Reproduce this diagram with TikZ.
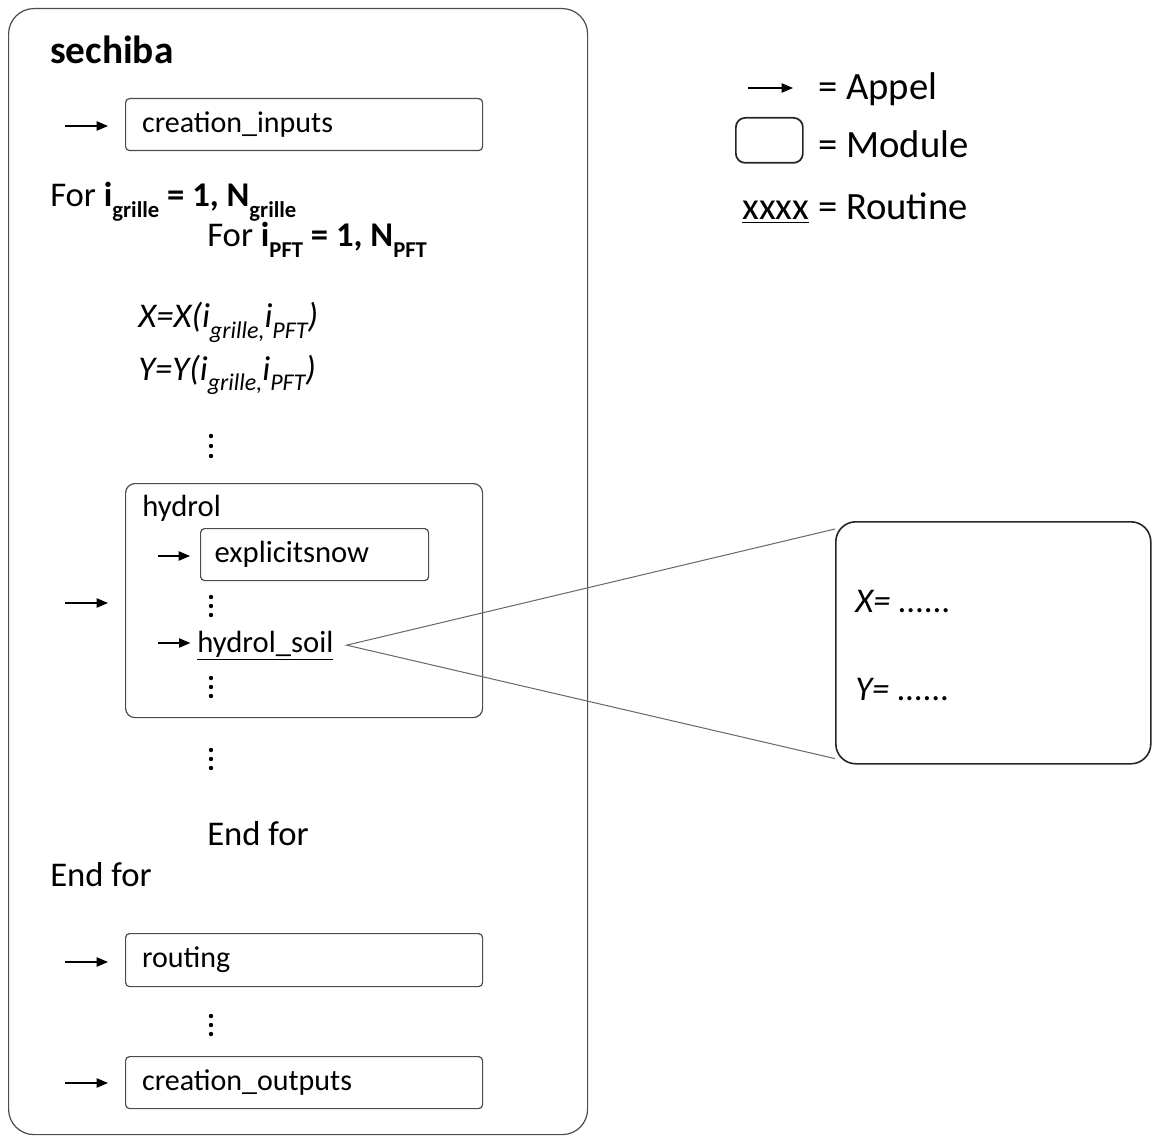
\documentclass[tikz,border=0pt]{standalone}
\usepackage{fontspec}
\setmainfont{Carlito}
\usetikzlibrary{arrows.meta,calc}
\newcommand\lsub[2][14pt]{\raisebox{-0.3em}{\fontsize{#1}{#1}\selectfont #2}}
\tikzset{
  px/.style={x=0.75pt,y=-0.75pt},
  txt/.style={inner sep=0pt,anchor=base west,font=\fontsize{23pt}{27pt}\selectfont},
  bigtxt/.style={inner sep=0pt,anchor=base west,font=\fontsize{26pt}{30pt}\selectfont},
  legtxt/.style={inner sep=0pt,anchor=base west,font=\fontsize{29pt}{33pt}\selectfont},
  modbox/.style={draw=black!70,line width=0.9pt,rounded corners=3pt,anchor=north west,
     inner xsep=12pt,align=left,font=\fontsize{22.5pt}{26pt}\selectfont},
  bigmod/.style={draw=black!70,line width=0.9pt,anchor=north west,inner sep=0pt},
  call/.style={-{Triangle[length=8.5pt,width=7pt]},line width=0.9pt,black},
  zoomline/.style={draw=black!60,line width=0.75pt},
  dot/.style={fill=black}
}
\begin{document}
\begin{tikzpicture}[px]
\useasboundingbox (0,0) rectangle (1152,1137);
% outer module
\node[bigmod,rounded corners=19pt,minimum width=579*0.75pt,minimum height=1126*0.75pt] (sechiba) at (8,8) {};
\node[inner sep=0pt,anchor=base west,font=\fontsize{29.5pt}{33pt}\selectfont\bfseries] (title) at (50,64) {sechiba};
% creation_inputs
\node[modbox,minimum width=357*0.75pt,minimum height=52*0.75pt,text width=243pt] (ci) at (125,98) {creation\_inputs};
\coordinate (aci) at (65,126);
\draw[call,shorten >=12.75pt] (aci) -- (aci -| ci.west);
% loops
\node[bigtxt] (for1) at (50,207) {For \textbf{i\lsub[17pt]{grille} = 1, N\lsub[17pt]{grille}}};
\node[bigtxt] (for2) at (207,247) {For \textbf{i\lsub[17pt]{PFT} = 1, N\lsub[17pt]{PFT}}};
\node[bigtxt,font=\fontsize{26pt}{30pt}\selectfont\itshape] (xeq) at (138,328) {X=X(i\lsub[18pt]{grille,}i\lsub[18pt]{PFT})};
\node[bigtxt,font=\fontsize{26pt}{30pt}\selectfont\itshape] (yeq) at (138,380) {Y=Y(i\lsub[18pt]{grille,}i\lsub[18pt]{PFT})};
\foreach \y in {436,446,456} \fill[dot] (211,\y) circle (2.2);
% hydrol module
\node[bigmod,rounded corners=7pt,minimum width=357*0.75pt,minimum height=234*0.75pt] (hydrol) at (125,483) {};
\node[txt] (hydroltitle) at (142,516) {hydrol};
\coordinate (ahy) at (65,603);
\draw[call,shorten >=12.75pt] (ahy) -- (ahy -| hydrol.west);
\node[modbox,font=\fontsize{23pt}{27pt}\selectfont,minimum width=228*0.75pt,minimum height=52*0.75pt,text width=150pt,inner xsep=10.5pt] (exp) at (200,528) {explicitsnow};
\coordinate (aexp) at (158,556);
\draw[call,shorten >=7.5pt] (aexp) -- (aexp -| exp.west);
\foreach \y in {597,606,615} \fill[dot] (211,\y) circle (2.2);
\node[txt] (hsoil) at (197,652) {\underline{hydrol\_soil}};
\coordinate (ahs) at (158,643);
\draw[call,shorten >=5pt] (ahs) -- (ahs -| hsoil.west);
\foreach \y in {678,687,696} \fill[dot] (211,\y) circle (2.2);
\foreach \y in {750,759,768} \fill[dot] (211,\y) circle (2.2);
\node[bigtxt] (end2) at (207,845) {End for};
\node[bigtxt] (end1) at (50,886) {End for};
% routing
\node[modbox,minimum width=357*0.75pt,minimum height=53*0.75pt,text width=243pt] (routing) at (125,933) {routing};
\coordinate (aro) at (65,962);
\draw[call,shorten >=12.75pt] (aro) -- (aro -| routing.west);
\foreach \y in {1016,1025,1034} \fill[dot] (211,\y) circle (2.2);
\node[modbox,minimum width=357*0.75pt,minimum height=52*0.75pt,text width=243pt] (co) at (125,1056) {creation\_outputs};
\coordinate (aco) at (65,1083);
\draw[call,shorten >=12.75pt] (aco) -- (aco -| co.west);
% zoom callout
\node[draw=black!85,line width=1.2pt,rounded corners=15pt,anchor=north west,inner sep=0pt,
  minimum width=315*0.75pt,minimum height=242*0.75pt] (callout) at (835,521) {};
\node[bigtxt,font=\fontsize{26pt}{30pt}\selectfont\itshape] (xdots) at (855,612) {X= ......};
\node[bigtxt,font=\fontsize{26pt}{30pt}\selectfont\itshape] (ydots) at (855,700) {Y= ......};
\coordinate (tip) at ($(hsoil.east)+(13,0)$);
\draw[zoomline] ($(callout.north west)+(0,8)$) -- (tip) -- ($(callout.south west)+(0,-6)$);
% legend
\coordinate (lga) at (748,88);
\coordinate (lgb) at (793,88);
\draw[call] (lga) -- (lgb);
\node[legtxt] (lappel) at (818,100) {= Appel};
\node[draw=black!85,line width=1.3pt,rounded corners=7pt,anchor=north west,inner sep=0pt,
  minimum width=67*0.75pt,minimum height=45*0.75pt] (lbox) at (735,117) {};
\node[legtxt] (lmodule) at (818,158) {= Module};
\node[legtxt] (lroutine) at (742,220) {\underline{xxxx} = Routine};
\end{tikzpicture}
\end{document}
